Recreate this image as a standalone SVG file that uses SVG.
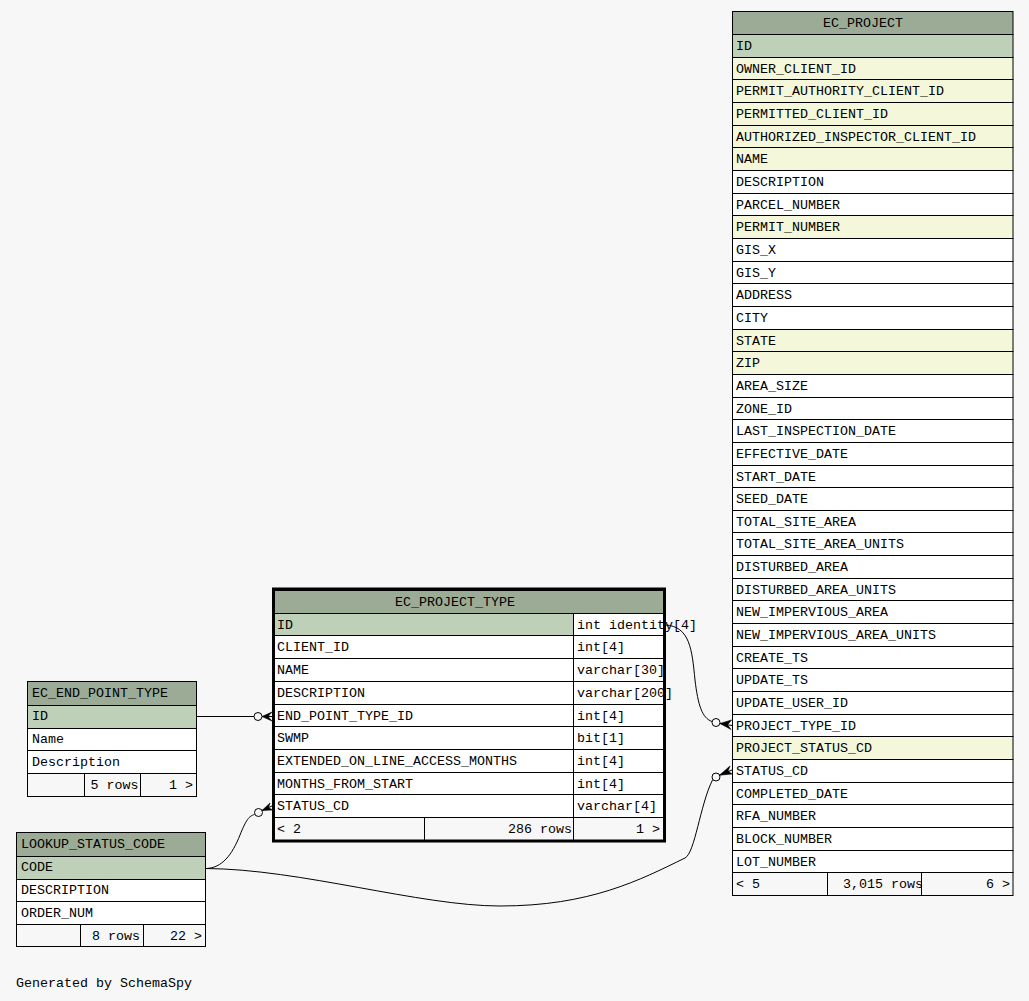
<svg xmlns="http://www.w3.org/2000/svg" width="1029" height="1001" viewBox="0 0 1029 1001">
<style>
text{font-family:"Liberation Mono","DejaVu Sans Mono",monospace;font-size:13.33px;fill:#000}
.r{text-anchor:end}
.hd{fill:#9bab96;stroke:#000;stroke-width:1}
.pk{fill:#bed1b8;stroke:#000;stroke-width:1}
.ix{fill:#f4f7da;stroke:#000;stroke-width:1}
.cl{fill:#fff;stroke:#000;stroke-width:1}
.ft{fill:#f7f7f7;stroke:#000;stroke-width:1}
.ln{fill:none;stroke:#000;stroke-width:1}
.bd{fill:none;stroke:#000;stroke-width:3}
.e{fill:none;stroke:#000;stroke-width:1}
.o{fill:#f7f7f7;stroke:#000;stroke-width:1}
.cf{fill:#000;stroke:#000;stroke-width:0.6;stroke-linejoin:miter}
</style>
<rect width="1029" height="1001" fill="#f7f7f7"/>

<g id="EC_PROJECT">
<rect class="hd" x="732.5" y="11.5" width="280.5" height="23"/>
<text x="823" y="26.5">EC_PROJECT</text>
<rect class="pk" x="732.5" y="34.5" width="280.5" height="23"/>
<rect class="ix" x="732.5" y="57.5" width="280.5" height="22"/>
<rect class="ix" x="732.5" y="79.5" width="280.5" height="23"/>
<rect class="ix" x="732.5" y="102.5" width="280.5" height="23"/>
<rect class="ix" x="732.5" y="125.5" width="280.5" height="22"/>
<rect class="ix" x="732.5" y="147.5" width="280.5" height="23"/>
<rect class="cl" x="732.5" y="170.5" width="280.5" height="23"/>
<rect class="cl" x="732.5" y="193.5" width="280.5" height="22"/>
<rect class="ix" x="732.5" y="215.5" width="280.5" height="23"/>
<rect class="cl" x="732.5" y="238.5" width="280.5" height="23"/>
<rect class="cl" x="732.5" y="261.5" width="280.5" height="22"/>
<rect class="cl" x="732.5" y="283.5" width="280.5" height="23"/>
<rect class="cl" x="732.5" y="306.5" width="280.5" height="23"/>
<rect class="ix" x="732.5" y="329.5" width="280.5" height="22"/>
<rect class="ix" x="732.5" y="351.5" width="280.5" height="23"/>
<rect class="cl" x="732.5" y="374.5" width="280.5" height="23"/>
<rect class="cl" x="732.5" y="397.5" width="280.5" height="22"/>
<rect class="cl" x="732.5" y="419.5" width="280.5" height="23"/>
<rect class="cl" x="732.5" y="442.5" width="280.5" height="23"/>
<rect class="cl" x="732.5" y="465.5" width="280.5" height="22"/>
<rect class="cl" x="732.5" y="487.5" width="280.5" height="23"/>
<rect class="cl" x="732.5" y="510.5" width="280.5" height="22"/>
<rect class="cl" x="732.5" y="532.5" width="280.5" height="23"/>
<rect class="cl" x="732.5" y="555.5" width="280.5" height="23"/>
<rect class="cl" x="732.5" y="578.5" width="280.5" height="22"/>
<rect class="cl" x="732.5" y="600.5" width="280.5" height="23"/>
<rect class="cl" x="732.5" y="623.5" width="280.5" height="23"/>
<rect class="cl" x="732.5" y="646.5" width="280.5" height="22"/>
<rect class="cl" x="732.5" y="668.5" width="280.5" height="23"/>
<rect class="cl" x="732.5" y="691.5" width="280.5" height="23"/>
<rect class="cl" x="732.5" y="714.5" width="280.5" height="22"/>
<rect class="ix" x="732.5" y="736.5" width="280.5" height="23"/>
<rect class="cl" x="732.5" y="759.5" width="280.5" height="23"/>
<rect class="cl" x="732.5" y="782.5" width="280.5" height="22"/>
<rect class="cl" x="732.5" y="804.5" width="280.5" height="23"/>
<rect class="cl" x="732.5" y="827.5" width="280.5" height="23"/>
<rect class="cl" x="732.5" y="850.5" width="280.5" height="22"/>
<rect class="ft" x="732.5" y="872.5" width="280.5" height="23"/>
<text x="736" y="49.5">ID</text>
<text x="736" y="72.5">OWNER_CLIENT_ID</text>
<text x="736" y="94.5">PERMIT_AUTHORITY_CLIENT_ID</text>
<text x="736" y="117.5">PERMITTED_CLIENT_ID</text>
<text x="736" y="140.5">AUTHORIZED_INSPECTOR_CLIENT_ID</text>
<text x="736" y="162.5">NAME</text>
<text x="736" y="185.5">DESCRIPTION</text>
<text x="736" y="208.5">PARCEL_NUMBER</text>
<text x="736" y="230.5">PERMIT_NUMBER</text>
<text x="736" y="253.5">GIS_X</text>
<text x="736" y="276.5">GIS_Y</text>
<text x="736" y="298.5">ADDRESS</text>
<text x="736" y="321.5">CITY</text>
<text x="736" y="344.5">STATE</text>
<text x="736" y="366.5">ZIP</text>
<text x="736" y="389.5">AREA_SIZE</text>
<text x="736" y="412.5">ZONE_ID</text>
<text x="736" y="434.5">LAST_INSPECTION_DATE</text>
<text x="736" y="457.5">EFFECTIVE_DATE</text>
<text x="736" y="480.5">START_DATE</text>
<text x="736" y="502.5">SEED_DATE</text>
<text x="736" y="525.5">TOTAL_SITE_AREA</text>
<text x="736" y="547.5">TOTAL_SITE_AREA_UNITS</text>
<text x="736" y="570.5">DISTURBED_AREA</text>
<text x="736" y="593.5">DISTURBED_AREA_UNITS</text>
<text x="736" y="615.5">NEW_IMPERVIOUS_AREA</text>
<text x="736" y="638.5">NEW_IMPERVIOUS_AREA_UNITS</text>
<text x="736" y="661.5">CREATE_TS</text>
<text x="736" y="683.5">UPDATE_TS</text>
<text x="736" y="706.5">UPDATE_USER_ID</text>
<text x="736" y="729.5">PROJECT_TYPE_ID</text>
<text x="736" y="751.5">PROJECT_STATUS_CD</text>
<text x="736" y="774.5">STATUS_CD</text>
<text x="736" y="797.5">COMPLETED_DATE</text>
<text x="736" y="819.5">RFA_NUMBER</text>
<text x="736" y="842.5">BLOCK_NUMBER</text>
<text x="736" y="865.5">LOT_NUMBER</text>
<text x="736" y="887.5">&lt; 5</text>
<text x="843" y="887.5">3,015 rows</text>
<text class="r" x="1010" y="887.5">6 &gt;</text>
<path class="ln" d="M827.5,872.5V895.5M921.5,872.5V895.5"/>
</g>

<g id="EC_PROJECT_TYPE">
<rect class="hd" x="274.5" y="590.5" width="390" height="23"/>
<text x="395" y="605.5">EC_PROJECT_TYPE</text>
<rect class="pk" x="274.5" y="613.5" width="299" height="22"/>
<rect class="cl" x="573.5" y="613.5" width="91" height="22"/>
<rect class="cl" x="274.5" y="635.5" width="299" height="23"/>
<rect class="cl" x="573.5" y="635.5" width="91" height="23"/>
<rect class="cl" x="274.5" y="658.5" width="299" height="23"/>
<rect class="cl" x="573.5" y="658.5" width="91" height="23"/>
<rect class="cl" x="274.5" y="681.5" width="299" height="23"/>
<rect class="cl" x="573.5" y="681.5" width="91" height="23"/>
<rect class="cl" x="274.5" y="704.5" width="299" height="22"/>
<rect class="cl" x="573.5" y="704.5" width="91" height="22"/>
<rect class="cl" x="274.5" y="726.5" width="299" height="23"/>
<rect class="cl" x="573.5" y="726.5" width="91" height="23"/>
<rect class="cl" x="274.5" y="749.5" width="299" height="23"/>
<rect class="cl" x="573.5" y="749.5" width="91" height="23"/>
<rect class="cl" x="274.5" y="772.5" width="299" height="22"/>
<rect class="cl" x="573.5" y="772.5" width="91" height="22"/>
<rect class="cl" x="274.5" y="794.5" width="299" height="23"/>
<rect class="cl" x="573.5" y="794.5" width="91" height="23"/>
<rect class="ft" x="274.5" y="817.5" width="390" height="23"/>
<text x="277" y="628.5">ID</text>
<text x="577" y="628.5">int identity[4]</text>
<text x="277" y="650.5">CLIENT_ID</text>
<text x="577" y="650.5">int[4]</text>
<text x="277" y="673.5">NAME</text>
<text x="577" y="673.5">varchar[30]</text>
<text x="277" y="696.5">DESCRIPTION</text>
<text x="577" y="696.5">varchar[200]</text>
<text x="277" y="719.5">END_POINT_TYPE_ID</text>
<text x="577" y="719.5">int[4]</text>
<text x="277" y="741.5">SWMP</text>
<text x="577" y="741.5">bit[1]</text>
<text x="277" y="764.5">EXTENDED_ON_LINE_ACCESS_MONTHS</text>
<text x="577" y="764.5">int[4]</text>
<text x="277" y="787.5">MONTHS_FROM_START</text>
<text x="577" y="787.5">int[4]</text>
<text x="277" y="809.5">STATUS_CD</text>
<text x="577" y="809.5">varchar[4]</text>
<text x="277" y="832.5">&lt; 2</text>
<text class="r" x="572" y="832.5">286 rows</text>
<text class="r" x="660" y="832.5">1 &gt;</text>
<path class="ln" d="M424.5,817.5V840.5M573.5,817.5V840.5"/>
<rect class="bd" x="273.5" y="589" width="391" height="252"/>
</g>

<g id="EC_END_POINT_TYPE">
<rect class="hd" x="27.5" y="681.5" width="169" height="24"/>
<rect class="pk" x="27.5" y="705.5" width="169" height="23"/>
<rect class="cl" x="27.5" y="728.5" width="169" height="22"/>
<rect class="cl" x="27.5" y="750.5" width="169" height="23"/>
<rect class="ft" x="27.5" y="773.5" width="169" height="23"/>
<path class="ln" d="M84.5,773.5V796.5M140.5,773.5V796.5"/>
<text x="32" y="696.5">EC_END_POINT_TYPE</text>
<text x="32" y="720">ID</text>
<text x="32" y="743">Name</text>
<text x="32" y="765.5">Description</text>
<text class="r" x="138.5" y="788.5">5 rows</text>
<text class="r" x="193" y="788.5">1 &gt;</text>
</g>

<g id="LOOKUP_STATUS_CODE">
<rect class="hd" x="16.5" y="832.5" width="189" height="24"/>
<rect class="pk" x="16.5" y="856.5" width="189" height="23"/>
<rect class="cl" x="16.5" y="879.5" width="189" height="22"/>
<rect class="cl" x="16.5" y="901.5" width="189" height="23"/>
<rect class="ft" x="16.5" y="924.5" width="189" height="22"/>
<path class="ln" d="M80.5,924.5V946.5M143.5,924.5V946.5"/>
<text x="21" y="847.5">LOOKUP_STATUS_CODE</text>
<text x="21" y="871">CODE</text>
<text x="21" y="893.5">DESCRIPTION</text>
<text x="21" y="916.5">ORDER_NUM</text>
<text class="r" x="140" y="939.5">8 rows</text>
<text class="r" x="202" y="939.5">22 &gt;</text>
</g>

<g id="connectors">
<path class="e" d="M197,716.5H254"/>
<circle class="o" cx="258" cy="716.5" r="4"/>
<polygon class="cf" points="262,716.5 272,712 268,716.5 272,721"/>
<path class="e" d="M262,716.5H272"/>

<path class="e" d="M665,625C690,626 692,650 695,680C698,705 702,718 712,721.5"/>
<circle class="o" cx="716" cy="722.5" r="4"/>
<polygon class="cf" points="720,723.5 731.5,720 727.5,724.8 731,729.5"/>
<path class="e" d="M720,723.5L732,725.5"/>

<path class="e" d="M206,868.5C222,868 232,855 240,835C246,820 249,816 254.5,814.5"/>
<circle class="o" cx="258.5" cy="812.5" r="4"/>
<polygon class="cf" points="262,810.5 270,803 268.5,807.5 272.5,810"/>
<path class="e" d="M262,810.5L272,806"/>

<path class="e" d="M206,868.5C300,869 420,906 500,906C590,906 640,880 685,858C695,853 700,805 712.5,780"/>
<circle class="o" cx="716" cy="777" r="4"/>
<polygon class="cf" points="719.5,775.2 730,766 728,771 732,774"/>
<path class="e" d="M719.5,775.2L732,770"/>
</g>

<text x="16" y="986.5">Generated by SchemaSpy</text>
</svg>
